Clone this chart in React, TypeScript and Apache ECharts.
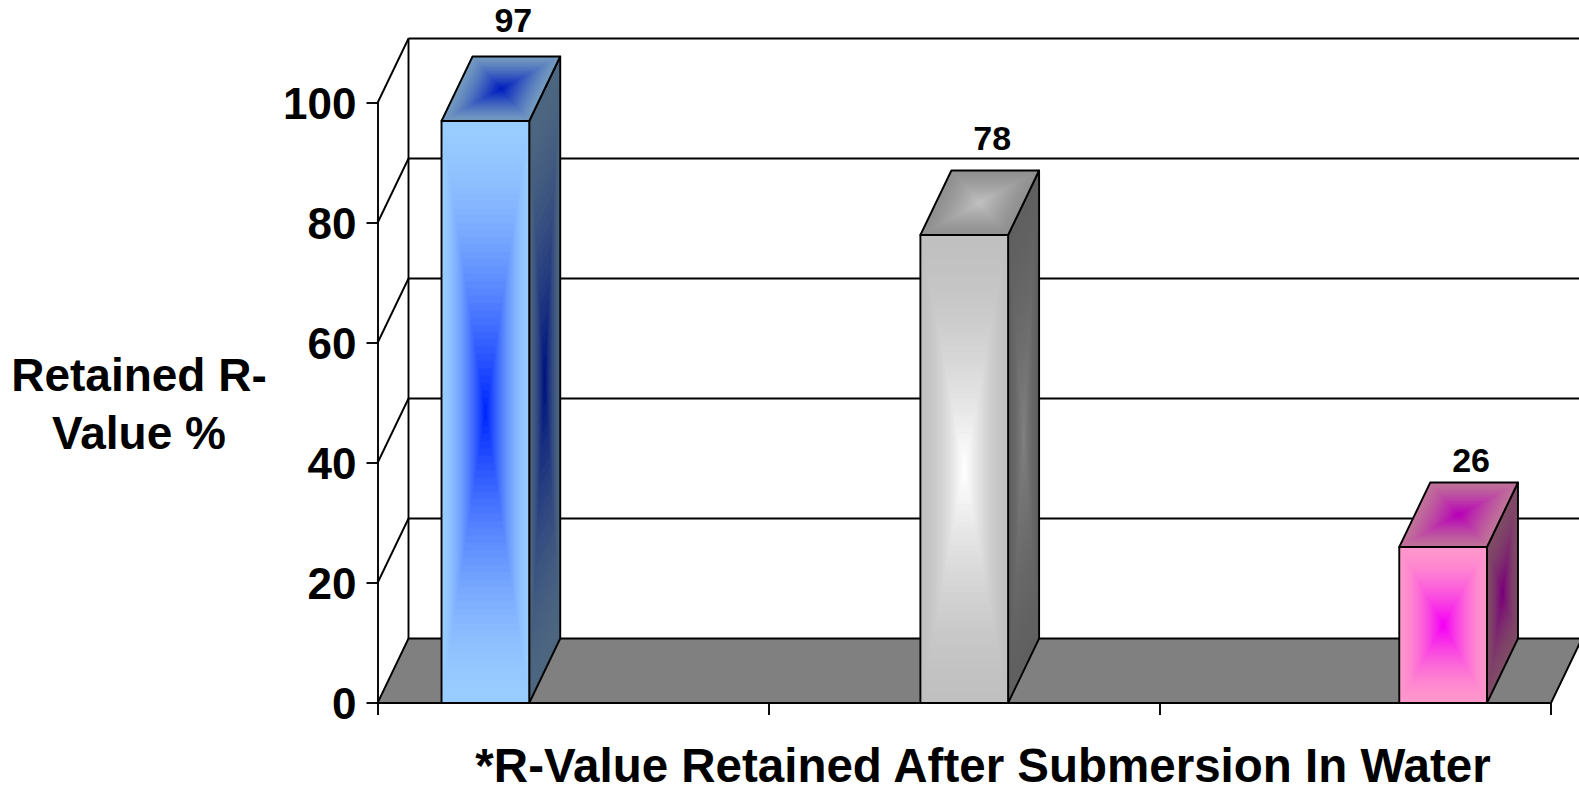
import React, { useEffect, useRef } from "react";
import * as echarts from "echarts";

// ---- data ----
const categories = ["Product 1", "Product 2", "Product 3"];
const retainedValues = [97, 78, 26];
const yTickValues = [0, 20, 40, 60, 80, 100];
const yAxisTitle = "Retained R-\nValue %";
const xAxisTitle = "*R-Value Retained After Submersion In Water";

// ---- styles ----
const FONT = "'Liberation Sans', Arial, Helvetica, sans-serif";
const DX = 31; // depth offset x
const DY = -64.5; // depth offset y
const GAP_RATIO = 4.46; // category width / bar width (3 bars + gaps)
const SERIES_COUNT = 3;
const TOP_SHADE = 0.75;
const SIDE_SHADE = 0.5;
const LINE_W = 1.9;
const barPalettes = [
  { edge: [153, 204, 255], center: [0, 40, 255] },
  { edge: [192, 192, 192], center: [255, 255, 255] },
  { edge: [255, 150, 204], center: [245, 0, 245] },
];

function mix(a: number[], b: number[], t: number, f: number) {
  const c = a.map((v, i) => Math.round((v + (b[i] - v) * t) * f));
  return `rgb(${c[0]},${c[1]},${c[2]})`;
}

function face(points: number[][], edge: number[], center: number[], shade: number, steps: number, gamma: number) {
  const cx = points.reduce((s, p) => s + p[0], 0) / points.length;
  const cy = points.reduce((s, p) => s + p[1], 0) / points.length;
  const children: any[] = [];
  for (let k = 0; k < steps; k++) {
    const s = 1 - k / steps;
    const pts = points.map((p) => [cx + (p[0] - cx) * s, cy + (p[1] - cy) * s]);
    children.push({
      type: "polygon",
      shape: { points: pts },
      style: { fill: mix(edge, center, Math.pow(k / (steps - 1), gamma), shade), stroke: null },
      silent: true,
    });
  }
  children.push({
    type: "polygon",
    shape: { points },
    style: { fill: "none", stroke: "#000", lineWidth: LINE_W, lineJoin: "round" },
  });
  return children;
}

export default function App() {
  const ref = useRef<HTMLDivElement>(null);
  useEffect(() => {
    if (!ref.current) return;
    const chart = echarts.init(ref.current, null, { renderer: "svg" });

    const option: any = {
      animation: false,
      backgroundColor: "#fff",
      grid: { left: 377.5, top: 103, right: 28, bottom: 87 },
      xAxis: {
        type: "category",
        data: categories,
        boundaryGap: true,
        axisLine: { show: true, lineStyle: { color: "#000", width: LINE_W } },
        axisTick: { show: true, length: 12, alignWithLabel: false, lineStyle: { color: "#000", width: LINE_W } },
        axisLabel: { show: false },
        splitLine: { show: false },
      },
      yAxis: {
        type: "value",
        min: 0,
        max: 100,
        interval: 20,
        axisLine: { show: true, lineStyle: { color: "#000", width: LINE_W } },
        axisTick: { show: true, length: 11, lineStyle: { color: "#000", width: LINE_W } },
        axisLabel: { fontSize: 44, fontWeight: "bold", fontFamily: FONT, color: "#000", margin: 21 },
        splitLine: { show: false },
      },
      graphic: [
        {
          type: "text",
          x: 139,
          y: 404,
          style: {
            text: yAxisTitle,
            align: "center",
            verticalAlign: "middle",
            fontSize: 46,
            lineHeight: 58,
            fontWeight: "bold",
            fontFamily: FONT,
            fill: "#000",
          },
        },
        {
          type: "text",
          x: 983,
          y: 765,
          style: {
            text: xAxisTitle,
            align: "center",
            verticalAlign: "middle",
            fontSize: 47.5,
            fontWeight: "bold",
            fontFamily: FONT,
            fill: "#000",
          },
        },
      ],
      series: [
        {
          type: "custom",
          name: "frame",
          clip: false,
          z: 1,
          data: yTickValues.map((v) => [0, v]),
          renderItem: (params: any, api: any) => {
            const cs = params.coordSys;
            const v = api.value(1);
            const y = api.coord([0, v])[1];
            const x0 = cs.x;
            const x1 = cs.x + cs.width;
            const line = { stroke: "#000", lineWidth: LINE_W };
            const children: any[] = [];
            if (v === 0) {
              const yTop = api.coord([0, yTickValues[yTickValues.length - 1]])[1];
              children.push({
                type: "polygon",
                shape: { points: [[x0, y], [x1, y], [x1 + DX, y + DY], [x0 + DX, y + DY]] },
                style: { fill: "#808080", stroke: "#000", lineWidth: LINE_W },
              });
              children.push({
                type: "line",
                shape: { x1: x0 + DX, y1: yTop + DY, x2: x0 + DX, y2: y + DY },
                style: line,
              });
            } else {
              children.push({
                type: "line",
                shape: { x1: x0 + DX, y1: y + DY, x2: x1 + DX + 40, y2: y + DY },
                style: line,
              });
              children.push({
                type: "line",
                shape: { x1: x0, y1: y, x2: x0 + DX, y2: y + DY },
                style: line,
              });
            }
            return { type: "group", children };
          },
        },
        {
          type: "custom",
          name: "Retained R-Value",
          clip: false,
          z: 3,
          data: retainedValues.map((v, i) => [i, v, i]),
          renderItem: (params: any, api: any) => {
            const ci = api.value(0);
            const val = api.value(1);
            const slot = api.value(2);
            const base = api.coord([ci, 0]);
            const tp = api.coord([ci, val]);
            const catW = api.size([1, 0])[0];
            const barW = catW / GAP_RATIO;
            const left = base[0] - catW / 2 + (catW - SERIES_COUNT * barW) / 2 + slot * barW;
            const right = left + barW;
            const bottom = base[1];
            const top = tp[1];
            const pal = barPalettes[slot % barPalettes.length];
            const side = face(
              [[right, top], [right + DX, top + DY], [right + DX, bottom + DY], [right, bottom]],
              pal.edge, pal.center, SIDE_SHADE, 24, 1.6
            );
            const topFace = face(
              [[left, top], [right, top], [right + DX, top + DY], [left + DX, top + DY]],
              pal.edge, pal.center, TOP_SHADE, 24, 1.3
            );
            const front = face(
              [[left, top], [right, top], [right, bottom], [left, bottom]],
              pal.edge, pal.center, 1, 40, 1.6
            );
            const label = {
              type: "text",
              style: {
                text: String(val),
                x: (left + right) / 2 + DX - 3,
                y: top + DY - (17 + 0.2 * val),
                align: "center",
                verticalAlign: "middle",
                fontSize: 34,
                fontWeight: "bold",
                fontFamily: FONT,
                fill: "#000",
              },
            };
            return { type: "group", children: [...side, ...topFace, ...front, label] };
          },
        },
      ],
    };

    chart.setOption(option);
    return () => chart.dispose();
  }, []);

  return (
    <div
      ref={ref}
      style={{ position: "absolute", left: 0, top: 0, width: 1579, height: 790, background: "#fff" }}
    />
  );
}
